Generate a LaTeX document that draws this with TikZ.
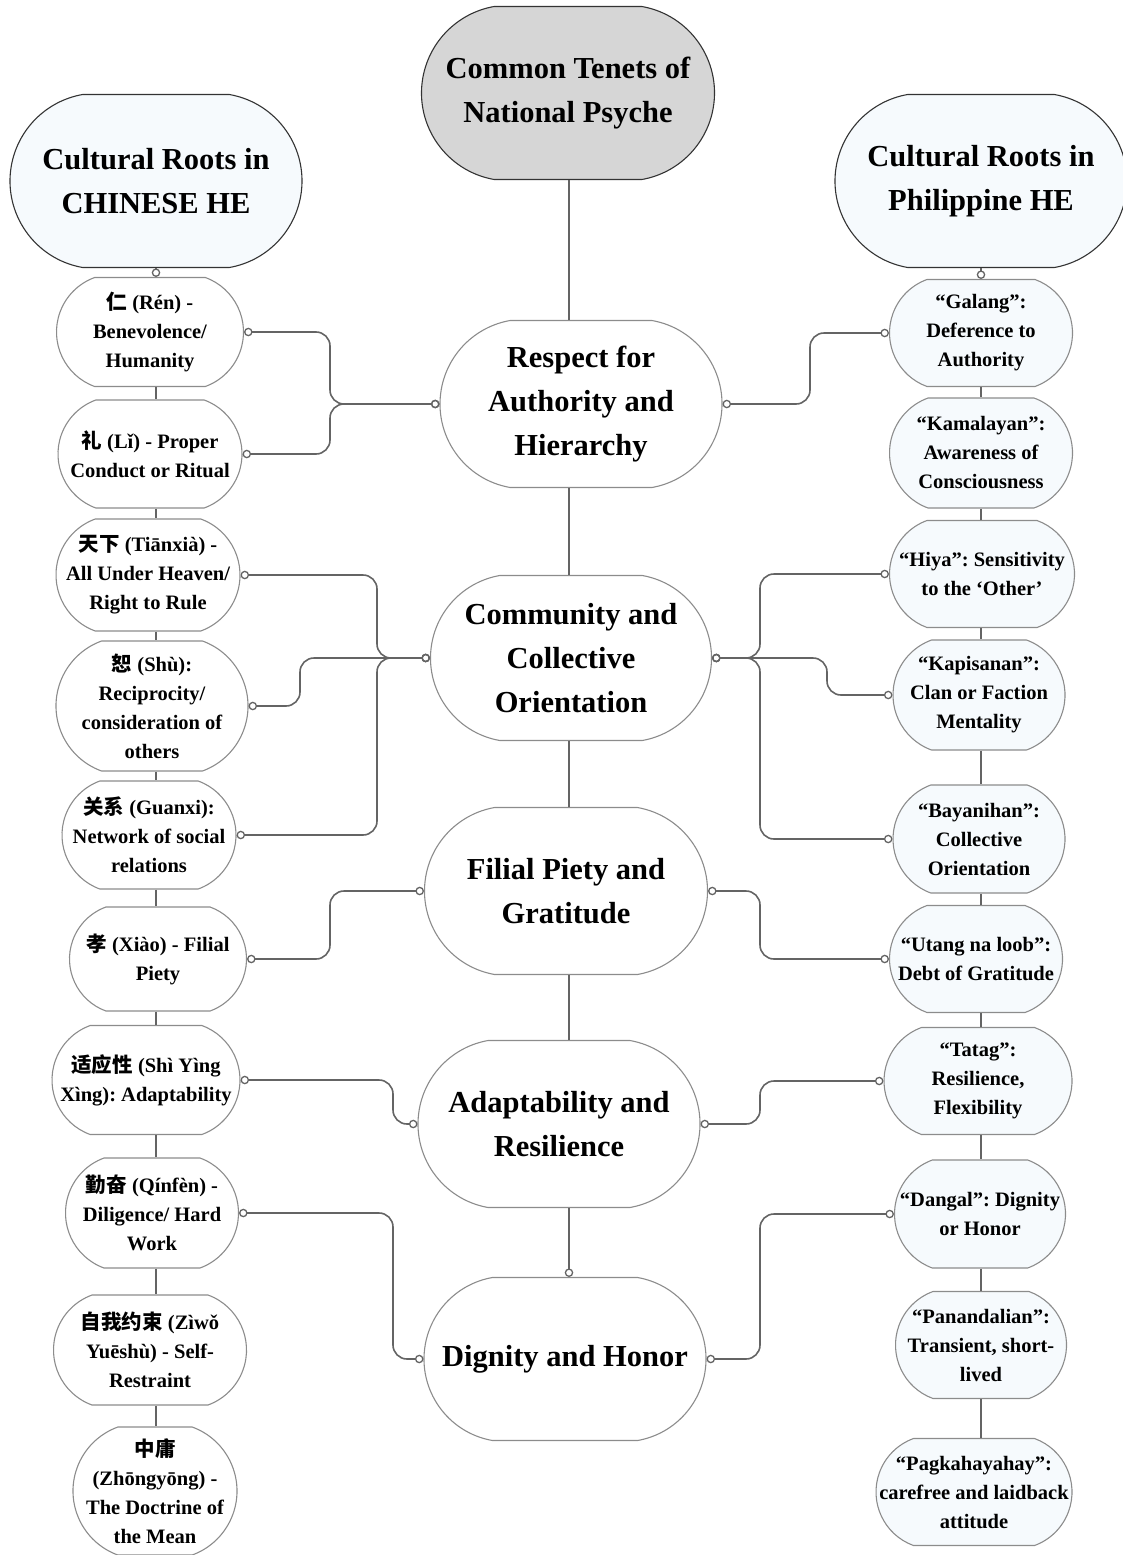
\documentclass[tikz,border=0pt]{standalone}
\usepackage{fontspec}
\setmainfont{Liberation Serif}
\newfontfamily\cjk{Noto Sans CJK SC}
\usetikzlibrary{shapes.misc,arrows.meta}
\definecolor{rootgray}{HTML}{D6D6D6}
\definecolor{paleblue}{HTML}{F6FAFD}
\definecolor{linkgray}{HTML}{646464}
\definecolor{rimgray}{HTML}{8C8C8C}
\newcommand{\zh}[1]{{\cjk #1}}
\frenchspacing
\tikzset{
    hub/.style={rounded rectangle, rounded rectangle arc length=160, draw=rimgray, line width=1.1pt, fill=white, inner sep=0pt},
    root/.style={hub, draw=black!80, fill=rootgray},
    header/.style={hub, draw=black!80, fill=paleblue},
    cn/.style={hub, rounded rectangle arc length=140},
    ph/.style={cn, fill=paleblue},
    bigtxt/.style={font=\fontsize{30.5}{44}\selectfont\bfseries, align=center, inner sep=0pt},
    smalltxt/.style={font=\fontsize{20.5}{29}\selectfont\bfseries, align=center, inner sep=0pt},
    link/.style={draw=linkgray, line width=1.6pt, rounded corners=14pt},
    ends/.style={{Circle[open,length=8.5pt,width=8.5pt,line width=1.3pt]}-{Circle[open,length=8.5pt,width=8.5pt,line width=1.3pt]}},
    endtip/.style={-{Circle[open,length=8.5pt,width=8.5pt,line width=1.3pt]}}
}
\begin{document}
\begin{tikzpicture}[x=1pt, y=-1pt]
  \useasboundingbox (0,0) rectangle (1123,1555);

  % headers
  \node[root, minimum width=293pt, minimum height=173pt, label={[bigtxt]center:{Common Tenets of\\National Psyche}}] (tenets) at (568,93) {};
  \node[header, minimum width=292pt, minimum height=173pt, label={[bigtxt]center:{Cultural Roots in\\CHINESE HE}}] (chinese) at (156,181) {};
  \node[header, minimum width=292pt, minimum height=173pt, label={[bigtxt]center:{Cultural Roots in\\Philippine HE}}] (filipino) at (981,181) {};

  % common tenets
  \node[hub, minimum width=282pt, minimum height=167pt, label={[bigtxt]center:{Respect for\\Authority and\\Hierarchy}}] (respect) at (581,404) {};
  \node[hub, minimum width=281pt, minimum height=165pt, label={[bigtxt]center:{Community and\\Collective\\Orientation}}] (community) at (571,658) {};
  \node[hub, minimum width=283pt, minimum height=167pt, label={[bigtxt]center:{Filial Piety and\\Gratitude}}] (filial) at (566,891) {};
  \node[hub, minimum width=282pt, minimum height=167pt, label={[bigtxt]center:{Adaptability and\\Resilience}}] (adapt) at (559,1124) {};
  \node[hub, minimum width=282pt, minimum height=163pt, label={[bigtxt]center:{Dignity and Honor}}] (dignity) at (565,1359) {};

  % chinese roots
  \node[cn, minimum width=187pt, minimum height=109pt, label={[smalltxt]center:{\zh{仁} (Rén) -\\Benevolence/\\Humanity}}] (ren) at (150,332) {};
  \node[cn, minimum width=184pt, minimum height=108pt, label={[smalltxt]center:{\zh{礼} (Lǐ) - Proper\\Conduct or Ritual}}] (li) at (150,454) {};
  \node[cn, minimum width=184pt, minimum height=112pt, label={[smalltxt]center:{\zh{天下} (Tiānxià) -\\All Under Heaven/\\Right to Rule}}] (tianxia) at (148,575) {};
  \node[cn, minimum width=192pt, minimum height=130pt, label={[smalltxt]center:{\zh{恕} (Shù):\\Reciprocity/\\consideration of\\others}}] (shu) at (152,706) {};
  \node[cn, minimum width=174pt, minimum height=108pt, label={[smalltxt]center:{\zh{关系} (Guanxi):\\Network of social\\relations}}] (guanxi) at (149,835) {};
  \node[cn, minimum width=177pt, minimum height=104pt, label={[smalltxt]center:{\zh{孝} (Xiào) - Filial\\Piety}}] (xiao) at (158,959) {};
  \node[cn, minimum width=188pt, minimum height=109pt, label={[smalltxt]center:{\zh{适应性} (Shì Yìng\\Xìng): Adaptability}}] (shiying) at (146,1080) {};
  \node[cn, minimum width=173pt, minimum height=110pt, label={[smalltxt]center:{\zh{勤奋} (Qínfèn) -\\Diligence/ Hard\\Work}}] (qinfen) at (152,1213) {};
  \node[cn, minimum width=193pt, minimum height=110pt, label={[smalltxt]center:{\zh{自我约束} (Zìwǒ\\Yuēshù) - Self-\\Restraint}}] (ziwo) at (150,1350) {};
  \node[cn, minimum width=164pt, minimum height=128pt, label={[smalltxt]center:{\zh{中庸}\\(Zhōngyōng) -\\The Doctrine of\\the Mean}}] (zhongyong) at (155,1491) {};

  % philippine roots
  \node[ph, minimum width=183pt, minimum height=107pt, label={[smalltxt]center:{“Galang”:\\Deference to\\Authority}}] (galang) at (981,333) {};
  \node[ph, minimum width=183pt, minimum height=110pt, label={[smalltxt]center:{“Kamalayan”:\\Awareness of\\Consciousness}}] (kamalayan) at (981,453) {};
  \node[ph, minimum width=185pt, minimum height=107pt, label={[smalltxt]center:{“Hiya”: Sensitivity\\to the ‘Other’}}] (hiya) at (982,574) {};
  \node[ph, minimum width=172pt, minimum height=110pt, label={[smalltxt]center:{“Kapisanan”:\\Clan or Faction\\Mentality}}] (kapisanan) at (979,695) {};
  \node[ph, minimum width=172pt, minimum height=108pt, label={[smalltxt]center:{“Bayanihan”:\\Collective\\Orientation}}] (bayanihan) at (979,839) {};
  \node[ph, minimum width=173pt, minimum height=107pt, label={[smalltxt]center:{“Utang na loob”:\\Debt of Gratitude}}] (utang) at (976,959) {};
  \node[ph, minimum width=188pt, minimum height=107pt, label={[smalltxt]center:{“Tatag”:\\Resilience,\\Flexibility}}] (tatag) at (978,1081) {};
  \node[ph, minimum width=171pt, minimum height=108pt, label={[smalltxt]center:{“Dangal”: Dignity\\or Honor}}] (dangal) at (980,1214) {};
  \node[ph, minimum width=171pt, minimum height=107pt, label={[smalltxt]center:{“Panandalian”:\\Transient, short-\\lived}}] (panandalian) at (981,1345) {};
  \node[ph, minimum width=196pt, minimum height=107pt, label={[smalltxt]center:{“Pagkahayahay”:\\carefree and laidback\\attitude}}] (pagkahayahay) at (974,1492) {};

  % spines
  \coordinate (sp) at (569,0);
  \draw[link] (sp |- tenets.south) -- (sp |- respect.north);
  \foreach \a/\b in {respect/community, community/filial, filial/adapt}
    \draw[link] (sp |- \a.south) -- (sp |- \b.north);
  \draw[link, endtip] (sp |- adapt.south) -- (sp |- dignity.north);

  \draw[link, endtip] (chinese.south) -- (chinese.south |- ren.north);
  \foreach \a/\b in {ren/li, li/tianxia, tianxia/shu, shu/guanxi, guanxi/xiao, xiao/shiying, shiying/qinfen, qinfen/ziwo, ziwo/zhongyong}
    \draw[link] (chinese.south |- \a.south) -- (chinese.south |- \b.north);

  \draw[link, endtip] (filipino.south) -- (filipino.south |- galang.north);
  \foreach \a/\b in {galang/kamalayan, kamalayan/hiya, hiya/kapisanan, kapisanan/bayanihan, bayanihan/utang, utang/tatag, tatag/dangal, dangal/panandalian, panandalian/pagkahayahay}
    \draw[link] (filipino.south |- \a.south) -- (filipino.south |- \b.north);

  % bend columns
  \coordinate (kl1) at (330,0);
  \coordinate (kl2) at (377,0);
  \coordinate (kl3) at (300,0);
  \coordinate (kl4) at (393,0);
  \coordinate (kr1) at (810,0);
  \coordinate (kr2) at (760,0);
  \coordinate (kr3) at (827,0);

  % left links
  \draw[link, ends] (ren.east) -| (kl1 |- respect.west) -- (respect.west);
  \draw[link, ends] (li.east) -| (kl1 |- respect.west) -- (respect.west);
  \draw[link, ends] (tianxia.east) -| (kl2 |- community.west) -- (community.west);
  \draw[link, ends] (shu.east) -| (kl3 |- community.west) -- (community.west);
  \draw[link, ends] (guanxi.east) -| (kl2 |- community.west) -- (community.west);
  \draw[link, ends] (xiao.east) -| (kl1 |- filial.west) -- (filial.west);
  \draw[link, ends] (shiying.east) -| (kl4 |- adapt.west) -- (adapt.west);
  \draw[link, ends] (qinfen.east) -| (kl4 |- dignity.west) -- (dignity.west);

  % right links
  \draw[link, ends] (respect.east) -| (kr1 |- galang.west) -- (galang.west);
  \draw[link, ends] (community.east) -| (kr2 |- hiya.west) -- (hiya.west);
  \draw[link, ends] (community.east) -| (kr3 |- kapisanan.west) -- (kapisanan.west);
  \draw[link, ends] (community.east) -| (kr2 |- bayanihan.west) -- (bayanihan.west);
  \draw[link, ends] (filial.east) -| (kr2 |- utang.west) -- (utang.west);
  \draw[link, ends] (adapt.east) -| (kr2 |- tatag.west) -- (tatag.west);
  \draw[link, ends] (dignity.east) -| (kr2 |- dangal.west) -- (dangal.west);
\end{tikzpicture}
\end{document}
